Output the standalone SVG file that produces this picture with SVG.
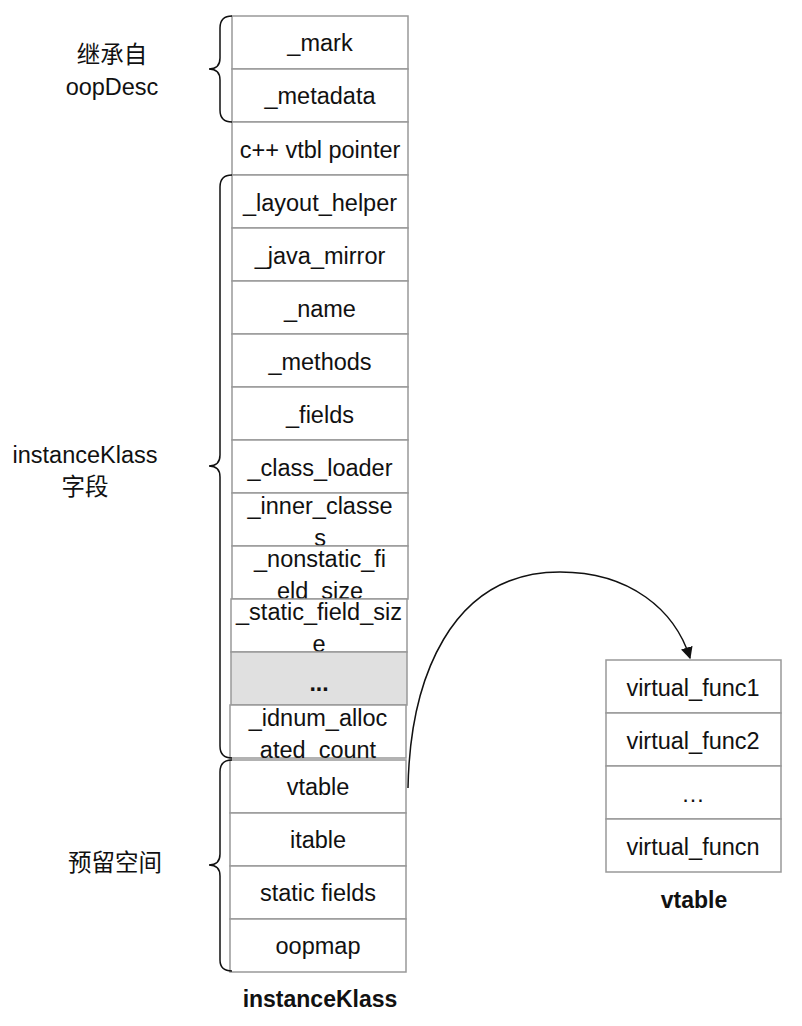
<svg xmlns="http://www.w3.org/2000/svg" width="802" height="1026" viewBox="0 0 802 1026">
<style>
.b{fill:#fff;stroke:#999;stroke-width:1.5}
.g{fill:#e0e0e0}
text{font-family:"Liberation Sans",Arial,"Noto Sans CJK SC",sans-serif;font-size:23.5px;fill:#111;text-anchor:middle}
.bold{font-weight:bold;font-size:23px}
.br{fill:none;stroke:#111;stroke-width:1.5}
</style>
<defs><marker id="ah" viewBox="0 0 10 10" refX="9" refY="5" markerWidth="8" markerHeight="8" orient="auto"><path d="M0,0L10,5L0,10z" fill="#111"/></marker></defs>
<g id="fields">
<rect class="b" x="232" y="16" width="176" height="53"/><text x="320" y="51">_mark</text>
<rect class="b" x="232" y="69" width="176" height="53"/><text x="320" y="104">_metadata</text>
<rect class="b" x="232" y="122" width="176" height="53"/><text x="320" y="158">c++ vtbl pointer</text>
<rect class="b" x="232" y="175" width="176" height="53"/><text x="320" y="211">_layout_helper</text>
<rect class="b" x="232" y="228" width="176" height="53"/><text x="320" y="264">_java_mirror</text>
<rect class="b" x="232" y="281" width="176" height="53"/><text x="320" y="317">_name</text>
<rect class="b" x="232" y="334" width="176" height="53"/><text x="320" y="370">_methods</text>
<rect class="b" x="232" y="387" width="176" height="53"/><text x="320" y="423">_fields</text>
<rect class="b" x="232" y="440" width="176" height="53"/><text x="320" y="476">_class_loader</text>
<rect class="b" x="232" y="493" width="176" height="53"/><text x="320" y="514">_inner_classe</text><text x="320" y="546">s</text>
<rect class="b" x="232" y="546" width="176" height="53"/><text x="320" y="567">_nonstatic_fi</text><text x="320" y="599">eld_size</text>
<rect class="b" x="231" y="599" width="176" height="53"/><text x="319" y="620">_static_field_siz</text><text x="319" y="652">e</text>
<rect class="b g" x="231" y="652" width="176" height="53"/><text x="319" y="691" class="bold">...</text>
<rect class="b" x="230" y="705" width="176" height="53"/><text x="318" y="726">_idnum_alloc</text><text x="318" y="758">ated_count</text>
<rect class="b" x="230" y="760" width="176" height="53"/><text x="318" y="795">vtable</text>
<rect class="b" x="230" y="813" width="176" height="53"/><text x="318" y="848">itable</text>
<rect class="b" x="230" y="866" width="176" height="53"/><text x="318" y="901">static fields</text>
<rect class="b" x="230" y="919" width="176" height="53"/><text x="318" y="954">oopmap</text>
<text x="320" y="1007" class="bold">instanceKlass</text>
</g>
<g id="vtable">
<rect class="b" x="606" y="660" width="175" height="53"/><text x="693" y="696">virtual_func1</text>
<rect class="b" x="606" y="713" width="175" height="53"/><text x="693" y="749">virtual_func2</text>
<rect class="b" x="606" y="766" width="175" height="53"/><text x="693" y="802">…</text>
<rect class="b" x="606" y="819" width="175" height="53"/><text x="693" y="855">virtual_funcn</text>
<text x="694" y="908" class="bold">vtable</text>
</g>
<g id="braces">
<path class="br" d="M232,16 Q220,16 220,28 L220,58 Q220,69 209,69 Q220,69 220,80 L220,110 Q220,122 232,122"/>
<path class="br" d="M232,175 Q220,175 220,187 L220,455 Q220,466 209,466 Q220,466 220,477 L220,746 Q220,758 232,758"/>
<path class="br" d="M232,760 Q220,760 220,772 L220,854 Q220,865 209,865 Q220,865 220,876 L220,960 Q220,971 232,971"/>
<text x="112" y="63">继承自</text><text x="112" y="95">oopDesc</text>
<text x="85" y="463">instanceKlass</text><text x="85" y="495">字段</text>
<text x="115" y="871">预留空间</text>
</g>
<g id="connectors">
<path d="M408,788 C410,680 450,572 560,572 C630,572 675,610 690,658" fill="none" stroke="#111" stroke-width="1.5" marker-end="url(#ah)"/>
</g>
</svg>
